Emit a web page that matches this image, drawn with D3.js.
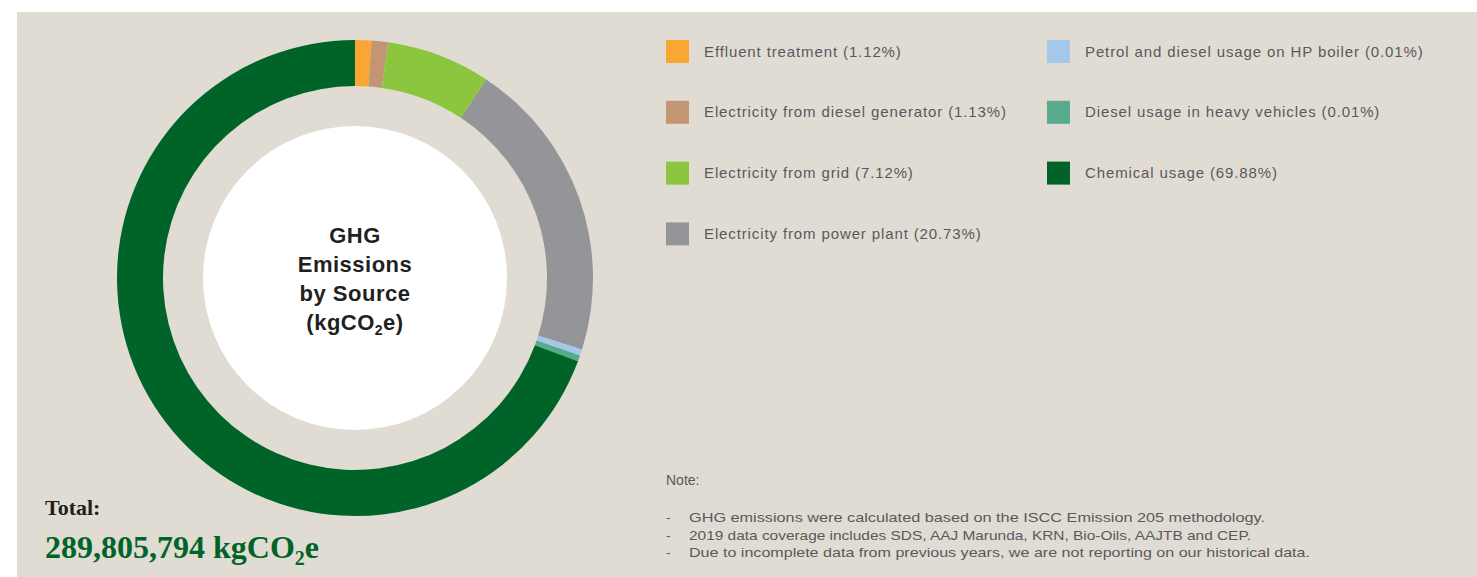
<!DOCTYPE html>
<html>
<head>
<meta charset="utf-8">
<script src="https://cdn.jsdelivr.net/npm/d3@7"></script>
<style>
  html, body { margin: 0; padding: 0; background: #ffffff; }
  svg { display: block; }
</style>
</head>
<body>
<svg id="chart"></svg>
<script>
// Emission sources, in the order they appear clockwise from 12 o'clock
const sources = [
    "Effluent treatment",
    "Electricity from diesel generator",
    "Electricity from grid",
    "Electricity from power plant",
    "Petrol and diesel usage on HP boiler",
    "Diesel usage in heavy vehicles",
    "Chemical usage"
];
const shares = [1.12, 1.13, 7.12, 20.73, 0.01, 0.01, 69.88];
const sourceColors = ["#f9a634", "#c39673", "#8cc63f", "#949598", "#a3c8ea", "#58aa8c", "#006428"];

// Legend layout: which column each source goes into
const legendColumns = [0, 0, 0, 0, 1, 1, 1];
const legendRows = [0, 1, 2, 3, 0, 1, 2];

const titleLines = ["GHG", "Emissions", "by Source"];
const totalLabel = "Total:";
const totalValue = "289,805,794 kgCO";
const noteLines = [
    "GHG emissions were calculated based on the ISCC Emission 205 methodology.",
    "2019 data coverage includes SDS, AAJ Marunda, KRN, Bio-Oils, AAJTB and CEP.",
    "Due to incomplete data from previous years, we are not reporting on our historical data."
];

const width = 1477, height = 577;
const svg = d3.select("#chart").attr("width", width).attr("height", height);

// beige panel
svg.append("rect")
    .attr("x", 17).attr("y", 12)
    .attr("width", width - 17).attr("height", height - 12)
    .attr("fill", "#e1dcd3");

// Donut
const cx = 355, cy = 278;
const outerR = 238, innerR = 192, holeR = 152;
// tiny slices get a minimum visible size, like in the original artwork
const minShare = 0.42;

const pie = d3.pie().sort(null).value(d => Math.max(d.share, minShare));
const arc = d3.arc().innerRadius(innerR).outerRadius(outerR);

const data = sources.map((s, i) => ({ name: s, share: shares[i], color: sourceColors[i] }));

const donut = svg.append("g").attr("transform", "translate(" + cx + "," + cy + ")");
donut.selectAll("path")
    .data(pie(data))
    .enter()
    .append("path")
    .attr("d", arc)
    .attr("fill", d => d.data.color);

donut.append("circle").attr("r", holeR).attr("fill", "#ffffff");

// centre title
const titleFont = "'Liberation Sans', Arial, sans-serif";
const title = donut.append("g")
    .attr("font-family", titleFont)
    .attr("font-weight", "bold")
    .attr("font-size", 22)
    .attr("letter-spacing", 0.5)
    .attr("fill", "#231f20")
    .attr("text-anchor", "middle");
titleLines.forEach((t, i) => {
    title.append("text").attr("y", -35 + i * 29).text(t);
});
const unitLine = title.append("text").attr("y", -35 + 3 * 29);
unitLine.append("tspan").text("(kgCO");
unitLine.append("tspan").attr("font-size", 14).attr("dy", 5).text("2");
unitLine.append("tspan").attr("dy", -5).text("e)");

// Legend
const legend = svg.append("g")
    .attr("font-family", "'Liberation Sans', Arial, sans-serif")
    .attr("font-size", 15)
    .attr("fill", "#58595b");
const colX = [666, 1047];
data.forEach((d, i) => {
    const x = colX[legendColumns[i]];
    const y = 40 + legendRows[i] * 60.8;
    legend.append("rect")
        .attr("x", x).attr("y", y)
        .attr("width", 23).attr("height", 23)
        .attr("fill", d.color);
    legend.append("text")
        .attr("x", x + 38).attr("y", y + 16.5)
        .attr("letter-spacing", 0.88)
        .text(d.name + " (" + d.share.toFixed(2) + "%)");
});

// Total
const serif = "'Liberation Serif', 'Times New Roman', serif";
svg.append("text")
    .attr("x", 45).attr("y", 515)
    .attr("font-family", serif).attr("font-weight", "bold")
    .attr("font-size", 22).attr("fill", "#231f20")
    .text(totalLabel);
const tot = svg.append("text")
    .attr("x", 45).attr("y", 558)
    .attr("font-family", serif).attr("font-weight", "bold")
    .attr("font-size", 32).attr("fill", "#006428");
tot.append("tspan").text(totalValue);
tot.append("tspan").attr("font-size", 20).attr("dy", 7).text("2");
tot.append("tspan").attr("dy", -7).text("e");

// Note
const note = svg.append("g")
    .attr("font-family", "'Liberation Sans', Arial, sans-serif")
    .attr("font-size", 13.5)
    .attr("fill", "#58595b");
note.append("text").attr("x", 666).attr("y", 485).attr("font-size", 14).text("Note:");
const noteWidths = [576, 562, 621];
noteLines.forEach((t, i) => {
    const y = 522 + i * 17.5;
    note.append("text").attr("x", 666).attr("y", y).text("-");
    note.append("text")
        .attr("x", 689).attr("y", y)
        .attr("textLength", noteWidths[i])
        .attr("lengthAdjust", "spacingAndGlyphs")
        .text(t);
});
</script>
</body>
</html>
